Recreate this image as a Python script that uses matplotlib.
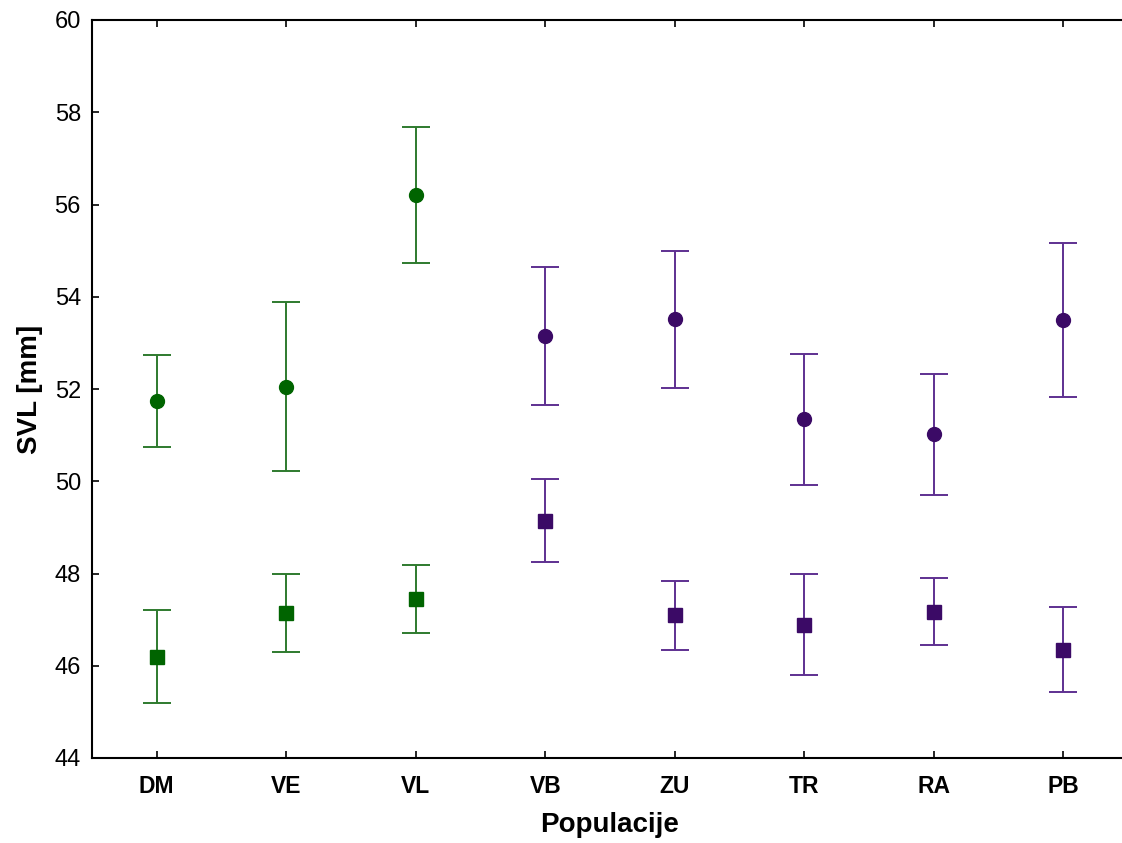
import numpy as np
import matplotlib
matplotlib.use("Agg")
import matplotlib.pyplot as plt

plt.rcParams['font.family'] = ['Liberation Sans', 'DejaVu Sans']

populations = ['DM', 'VE', 'VL', 'VB', 'ZU', 'TR', 'RA', 'PB']

# circles (upper group)
circle_mean = [51.74, 52.05, 56.21, 53.15, 53.51, 51.34, 51.02, 53.50]
circle_err = [1.00, 1.83, 1.48, 1.50, 1.49, 1.42, 1.31, 1.67]

# squares (lower group)
square_mean = [46.20, 47.14, 47.45, 49.14, 47.09, 46.89, 47.17, 46.35]
square_err = [1.00, 0.85, 0.74, 0.90, 0.75, 1.10, 0.73, 0.92]

# first three populations green, rest purple
n_green = 3
green_marker, green_line = '#006400', '#2e7a2e'
purple_marker, purple_line = '#3b0a66', '#5e3090'

fig = plt.figure(figsize=(11.22, 8.43), dpi=100)
ax = fig.add_axes([92 / 1122, 1 - 758 / 843, 1036 / 1122, 738 / 843])

x = np.arange(len(populations))
for i in x:
    mc, lc = (green_marker, green_line) if i < n_green else (purple_marker, purple_line)
    ax.errorbar(x[i], circle_mean[i], yerr=circle_err[i], fmt='o', ms=10,
                mfc=mc, mec=mc, ecolor=lc, elinewidth=1.4, capsize=10, capthick=1.4)
    ax.errorbar(x[i], square_mean[i], yerr=square_err[i], fmt='s', ms=10,
                mfc=mc, mec=mc, ecolor=lc, elinewidth=1.4, capsize=10, capthick=1.4)

ax.set_xlim(-0.5, 7.5)
ax.set_ylim(44, 60)
ax.set_yticks(np.arange(44, 61, 2))
ax.set_xticks(x)
ax.set_xticklabels(populations, fontweight='bold', fontsize=16.5)
ax.tick_params(axis='y', labelsize=17, direction='in', length=5, width=1.2, pad=8)
ax.tick_params(axis='x', direction='in', length=5, width=1.2, pad=12, top=True)
for s in ax.spines.values():
    s.set_linewidth(1.5)
ax.spines['right'].set_visible(False)

ax.set_xlabel('Populacije', fontsize=20, fontweight='bold', labelpad=10)
ax.set_ylabel('SVL [mm]', fontsize=20, fontweight='bold', labelpad=8)

fig.savefig('out.png', dpi=100)
